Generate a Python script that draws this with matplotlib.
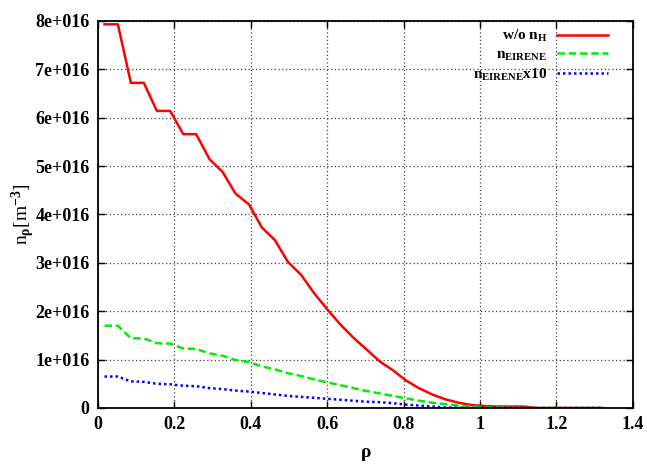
import matplotlib
matplotlib.use("Agg")
import matplotlib.pyplot as plt
from matplotlib.ticker import MultipleLocator, FuncFormatter

plt.rcParams['font.family'] = ['Liberation Serif', 'DejaVu Serif']
plt.rcParams['font.weight'] = 'bold'
plt.rcParams['mathtext.fontset'] = 'custom'
plt.rcParams['mathtext.rm'] = 'Liberation Serif:bold'
plt.rcParams['mathtext.bf'] = 'Liberation Serif:bold'
plt.rcParams['mathtext.it'] = 'Liberation Serif:bold'

# radial coordinate
rho = [0.017, 0.052, 0.086, 0.120, 0.154, 0.189, 0.223, 0.257, 0.292, 0.326,
       0.360, 0.395, 0.429, 0.463, 0.497, 0.532, 0.566, 0.600, 0.635, 0.669,
       0.703, 0.738, 0.772, 0.806, 0.840, 0.875, 0.909, 0.943, 0.978, 1.012,
       1.046, 1.080, 1.115, 1.149, 1.183, 1.218, 1.252, 1.286, 1.320]

# densities in units of 1e16 m^-3
n_wo_H = [7.93, 7.93, 6.72, 6.72, 6.14, 6.14, 5.66, 5.66, 5.14, 4.88,
          4.43, 4.21, 3.73, 3.47, 3.02, 2.75, 2.37, 2.04, 1.72, 1.45,
          1.21, 0.96, 0.78, 0.57, 0.41, 0.28, 0.18, 0.11, 0.06, 0.04,
          0.03, 0.03, 0.03, 0.0, 0.0, 0.0, 0.0, 0.0, 0.0]
n_eirene = [1.70, 1.70, 1.44, 1.44, 1.34, 1.33, 1.23, 1.22, 1.13, 1.08,
            0.99, 0.95, 0.86, 0.80, 0.72, 0.66, 0.59, 0.53, 0.47, 0.41,
            0.35, 0.30, 0.25, 0.20, 0.15, 0.11, 0.08, 0.05, 0.03, 0.01,
            0.01, 0.005, 0.0, 0.0, 0.0, 0.0, 0.0, 0.0, 0.0]
n_eirene_x10 = [0.65, 0.65, 0.55, 0.54, 0.50, 0.49, 0.46, 0.45, 0.41, 0.39,
                0.36, 0.34, 0.31, 0.28, 0.25, 0.23, 0.21, 0.19, 0.17, 0.15,
                0.13, 0.12, 0.10, 0.07, 0.05, 0.03, 0.01, 0.005, 0.0, 0.0,
                0.0, 0.0, 0.0, 0.0, 0.0, 0.0, 0.0, 0.0, 0.0]

scale = 1e16

fig = plt.figure(figsize=(6.47, 4.65), dpi=100)
ax = fig.add_axes([0.1515, 0.1226, 0.8265, 0.8324])

ax.plot(rho, [v * scale for v in n_wo_H], color='#ff0000', lw=1.8, ls='-',
        label=r'w/o n$_\mathrm{H}$')
ax.plot(rho, [v * scale for v in n_eirene], color='#00ee00', lw=1.8, ls=(0, (3, 1.5)),
        label=r'n$_\mathrm{EIRENE}$')
ax.plot(rho, [v * scale for v in n_eirene_x10], color='#0000ff', lw=1.8, ls=(0, (1, 1.2)),
        label=r'n$_\mathrm{EIRENE}$x10')

ax.set_xlim(0, 1.4)
ax.set_ylim(0, 8e16)
ax.xaxis.set_major_locator(MultipleLocator(0.2))
ax.yaxis.set_major_locator(MultipleLocator(1e16))


def sci(v, pos):
    if v == 0:
        return '0'
    return '%de+016' % round(v / 1e16)


ax.yaxis.set_major_formatter(FuncFormatter(sci))
ax.xaxis.set_major_formatter(FuncFormatter(lambda v, p: '%g' % round(v, 1)))

ax.tick_params(direction='in', length=5, width=1, top=True, right=True,
               labelsize=13, pad=6)
for lbl in ax.get_xticklabels() + ax.get_yticklabels():
    lbl.set_fontweight('bold')
for s in ax.spines.values():
    s.set_linewidth(1.3)

ax.grid(True, color='0.25', ls=(0, (1, 2)), lw=0.9)

ax.set_xlabel(r'$\rho$', fontsize=14, labelpad=9)
ax.set_ylabel(r'n$_\rho$[m$^{-3}$]', fontsize=14, labelpad=-1)

leg = ax.legend(loc='upper right', bbox_to_anchor=(0.966, 0.997), frameon=False,
                markerfirst=False, fontsize=11, handlelength=3.4, handletextpad=0.6,
                labelspacing=0.25, borderaxespad=0.0)
for t in leg.get_texts():
    t.set_ha('right')

fig.savefig('out.png', dpi=100)
